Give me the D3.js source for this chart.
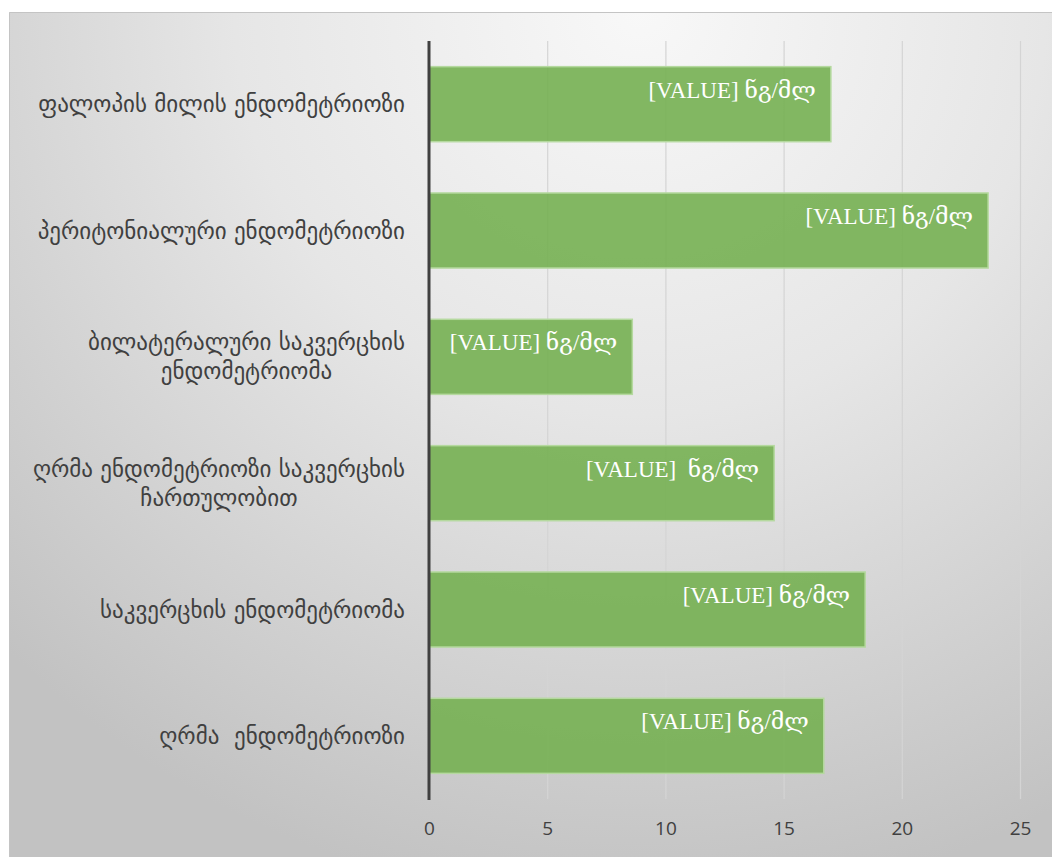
<!DOCTYPE html>
<html>
<head>
<meta charset="utf-8">
<script src="https://cdn.jsdelivr.net/npm/d3@7"></script>
<style>
  html, body { margin: 0; padding: 0; background: #ffffff; }
  svg { display: block; }
</style>
</head>
<body>
<svg id="chart" width="1052" height="857"></svg>
<script>
// Categories (top to bottom), each as display lines
const categories = [
  ["ფალოპის მილის ენდომეტრიოზი"],
  ["პერიტონიალური ენდომეტრიოზი"],
  ["ბილატერალური საკვერცხის", "ენდომეტრიომა"],
  ["ღრმა ენდომეტრიოზი საკვერცხის", "ჩართულობით"],
  ["საკვერცხის ენდომეტრიომა"],
  ["ღრმა  ენდომეტრიოზი"]
];
// Concentration, ng/ml
const values = [17.0, 23.65, 8.6, 14.6, 18.45, 16.7];
// Text shown on each bar
const barLabels = [
  "[VALUE] ნგ/მლ",
  "[VALUE] ნგ/მლ",
  "[VALUE] ნგ/მლ",
  "[VALUE]  ნგ/მლ",
  "[VALUE] ნგ/მლ",
  "[VALUE] ნგ/მლ"
];
const xTicks = [0, 5, 10, 15, 20, 25];

const svg = d3.select("#chart");
const W = 1052, H = 857;
const plot = { left: 429, right: 1020, top: 41, bottom: 799 };

const defs = svg.append("defs");
const bg = defs.append("radialGradient")
  .attr("id", "bgGrad")
  .attr("gradientUnits", "userSpaceOnUse")
  .attr("cx", 640).attr("cy", 10).attr("r", 900);
bg.append("stop").attr("offset", "0%").attr("stop-color", "#f8f8f8");
bg.append("stop").attr("offset", "45%").attr("stop-color", "#e6e6e6");
bg.append("stop").attr("offset", "100%").attr("stop-color", "#c2c2c2");

const gridGrad = defs.append("linearGradient")
  .attr("id", "gridGrad")
  .attr("gradientUnits", "userSpaceOnUse")
  .attr("x1", 0).attr("y1", plot.top).attr("x2", 0).attr("y2", plot.bottom);
gridGrad.append("stop").attr("offset", "0%").attr("stop-color", "#d4d4d4");
gridGrad.append("stop").attr("offset", "50%").attr("stop-color", "#b4b4b4");
gridGrad.append("stop").attr("offset", "100%").attr("stop-color", "#8c8c8c");

// Panel background
svg.append("rect")
  .attr("x", 9).attr("y", 12)
  .attr("width", W - 9).attr("height", H - 12)
  .attr("fill", "url(#bgGrad)");
svg.append("path")
  .attr("d", `M9.5,${H} V12.5 H${W}`)
  .attr("fill", "none")
  .attr("stroke", "#c4c4c4")
  .attr("stroke-width", 1);

const x = d3.scaleLinear().domain([0, 25]).range([plot.left, plot.right]);
const y = d3.scaleBand()
  .domain(d3.range(categories.length))
  .range([plot.top, plot.bottom])
  .paddingInner(0.406)
  .paddingOuter(0.203);

// Vertical gridlines with tick labels
const xAxis = d3.axisBottom(x).tickValues(xTicks).tickSize(-(plot.bottom - plot.top)).tickPadding(23);
const gx = svg.append("g")
  .attr("transform", `translate(0,${plot.bottom})`)
  .call(xAxis);
gx.select(".domain").remove();
gx.selectAll(".tick line")
  .attr("stroke", "url(#gridGrad)")
  .attr("stroke-width", 1.2)
  .filter(d => d === 0).remove();
gx.selectAll(".tick text")
  .attr("fill", "#404040")
  .attr("font-family", "'Open Sans', 'DejaVu Sans', sans-serif")
  .attr("font-size", 19);

// Bars
svg.append("g").selectAll("rect")
  .data(values)
  .join("rect")
  .attr("x", x(0))
  .attr("y", (d, i) => y(i))
  .attr("width", d => x(d) - x(0))
  .attr("height", y.bandwidth())
  .attr("fill", "#76b052")
  .attr("fill-opacity", 0.9)
  .attr("stroke", "#b5d99f")
  .attr("stroke-width", 1.5);

// Bar labels
svg.append("g").selectAll("text")
  .data(values)
  .join("text")
  .attr("x", d => x(d) - 15)
  .attr("y", (d, i) => y(i) + 31)
  .attr("text-anchor", "end")
  .attr("fill", "#ffffff")
  .attr("font-family", "'Liberation Serif', 'DejaVu Serif', serif")
  .attr("font-size", 23)
  .style("white-space", "pre")
  .text((d, i) => barLabels[i]);

// Category axis line
svg.append("line")
  .attr("x1", x(0)).attr("x2", x(0))
  .attr("y1", plot.top).attr("y2", plot.bottom + 1)
  .attr("stroke", "#404040")
  .attr("stroke-width", 3);

// Category labels, multi-line labels centred as a block ending at the right edge
const labelRight = 405;
const lineGap = 29;
const catG = svg.append("g")
  .attr("font-family", "'DejaVu Sans', sans-serif")
  .attr("font-size", 23)
  .attr("fill", "#404040");
categories.forEach((lines, i) => {
  const cy = y(i) + y.bandwidth() / 2;
  const t = catG.append("text").style("white-space", "pre");
  const spans = lines.map((ln, k) =>
    t.append("tspan")
      .attr("y", cy + (k - (lines.length - 1) / 2) * lineGap)
      .attr("dy", "0.35em")
      .text(ln));
  const widths = spans.map(s => s.node().getComputedTextLength());
  const maxW = d3.max(widths);
  spans.forEach(s => s.attr("x", labelRight - maxW / 2).attr("text-anchor", "middle"));
});
</script>
</body>
</html>
